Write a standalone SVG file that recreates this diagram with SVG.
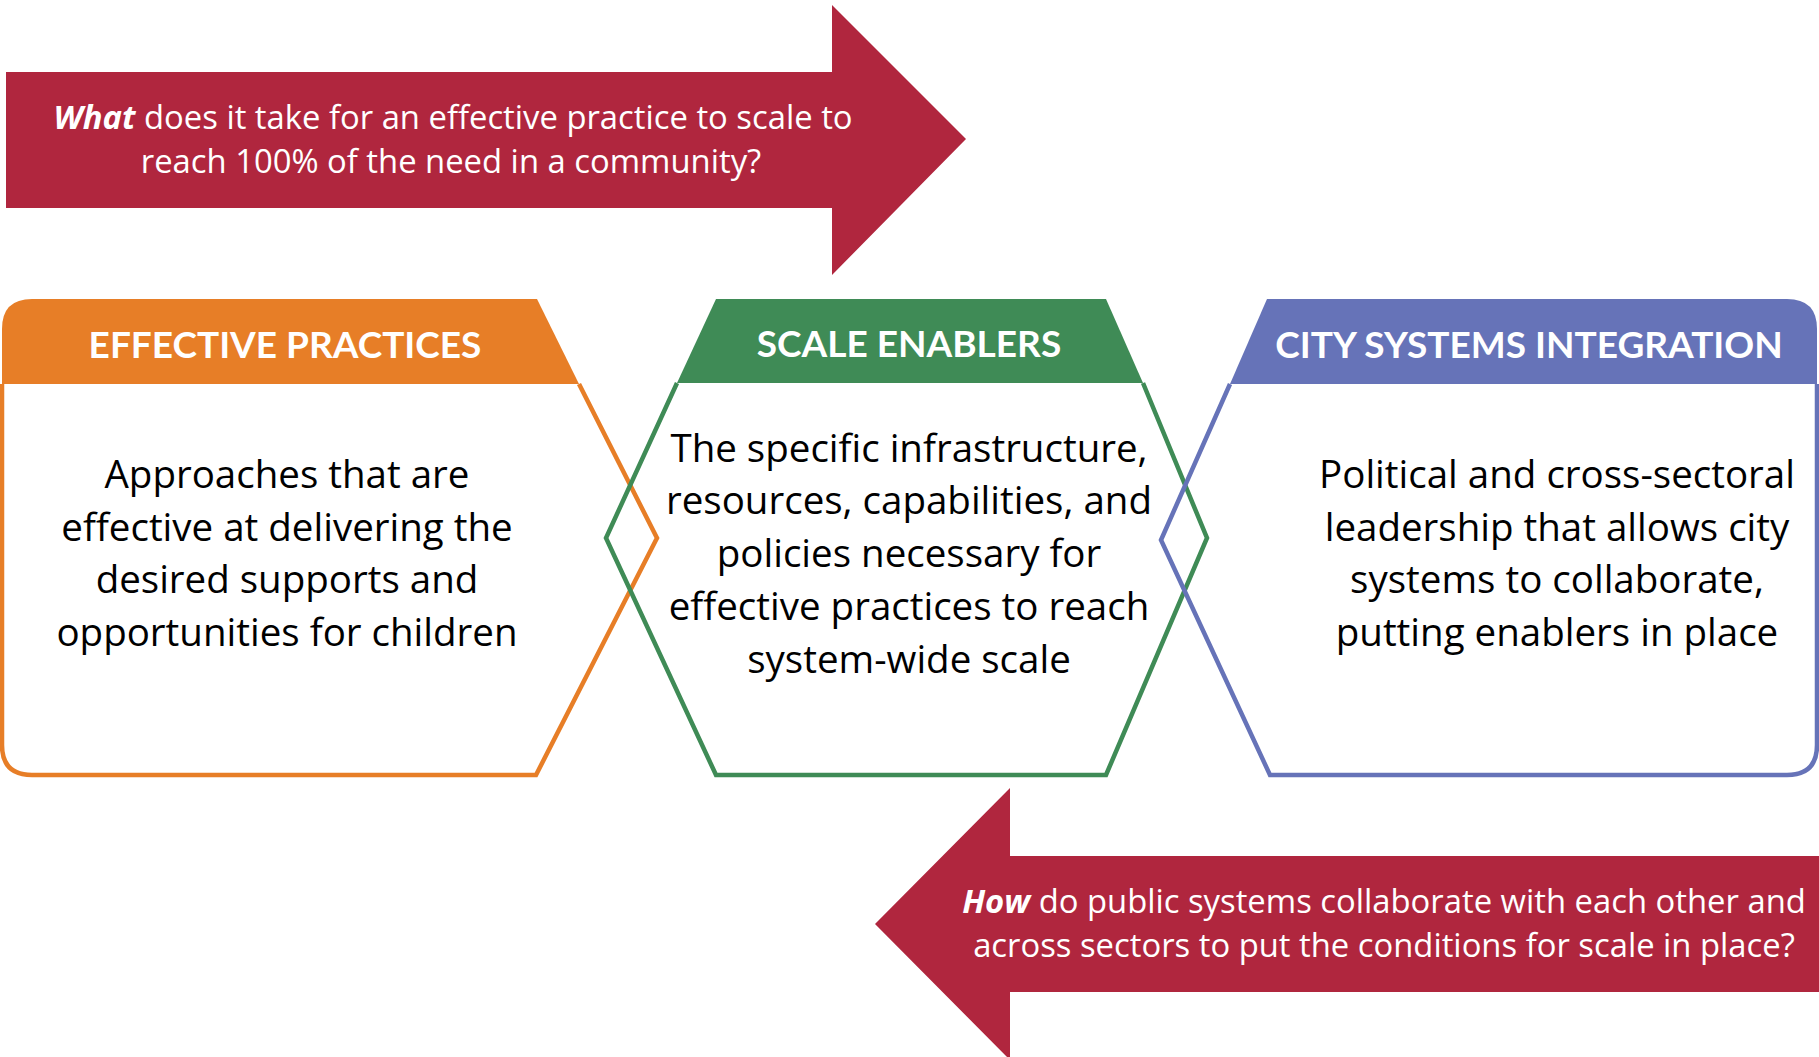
<svg xmlns="http://www.w3.org/2000/svg" width="1819" height="1057" viewBox="0 0 1819 1057">
<style>
.body{font-family:"Open Sans",sans-serif;font-size:38.5px;fill:#000;text-anchor:middle}
.hdr{font-family:Lato,"Open Sans",sans-serif;font-size:37px;font-weight:bold;fill:#fff;text-anchor:middle}
.q{font-family:"Open Sans",sans-serif;font-size:32.8px;fill:#fff;text-anchor:middle}
.q .em{font-weight:bold;font-style:italic}
.outline{fill:none;stroke-width:4.5;stroke-linejoin:miter}
</style>
<rect width="1819" height="1057" fill="#fff"/>
<g id="connectors">
<g id="arrow-what">
<polygon points="6,72 832,72 832,5 966,139 832,275 832,208 6,208" fill="#B0263E"/>
<text class="q" x="453" y="129"><tspan class="em">What</tspan> does it take for an effective practice to scale to</text>
<text class="q" x="451" y="173">reach 100% of the need in a community?</text>
</g>
<g id="arrow-how">
<polygon points="1819,856 1010,856 1010,788 875,924 1010,1060 1010,992 1819,992" fill="#B0263E"/>
<text class="q" x="1384" y="913"><tspan class="em">How</tspan> do public systems collaborate with each other and</text>
<text class="q" x="1384" y="957">across sectors to put the conditions for scale in place?</text>
</g>
</g>
<g id="effective-practices">
<path d="M2,384 L2,329 Q2,299 32,299 L537,299 L579,384 Z" fill="#E77E27"/>
<path class="outline" stroke="#E77E27" d="M579,384 L657,538 L536,775 L32,775 Q2,775 2,745 L2,384"/>
<text class="hdr" x="285" y="358">EFFECTIVE PRACTICES</text>
<text class="body" x="287" y="488">Approaches that are</text>
<text class="body" x="287" y="541">effective at delivering the</text>
<text class="body" x="287" y="593">desired supports and</text>
<text class="body" x="287" y="646">opportunities for children</text>
</g>
<g id="scale-enablers">
<polygon points="716,299 1106,299 1143,383 677,383" fill="#3F8B56"/>
<path class="outline" stroke="#3F8B56" d="M677,383 L606,538 L716,775 L1106,775 L1207,538 L1143,383"/>
<text class="hdr" x="909" y="357">SCALE ENABLERS</text>
<text class="body" x="909" y="462">The specific infrastructure,</text>
<text class="body" x="909" y="514">resources, capabilities, and</text>
<text class="body" x="909" y="567">policies necessary for</text>
<text class="body" x="909" y="620">effective practices to reach</text>
<text class="body" x="909" y="673">system-wide scale</text>
</g>
<g id="city-systems-integration">
<path d="M1267,299 L1787,299 Q1817,299 1817,329 L1817,384 L1230,384 Z" fill="#6673B8"/>
<path class="outline" stroke="#6673B8" d="M1230,384 L1161,540 L1270,775 L1787,775 Q1817,775 1817,745 L1817,384"/>
<text class="hdr" x="1529" y="358">CITY SYSTEMS INTEGRATION</text>
<text class="body" x="1557" y="488">Political and cross-sectoral</text>
<text class="body" x="1557" y="541">leadership that allows city</text>
<text class="body" x="1557" y="593">systems to collaborate,</text>
<text class="body" x="1557" y="646">putting enablers in place</text>
</g>
</svg>
